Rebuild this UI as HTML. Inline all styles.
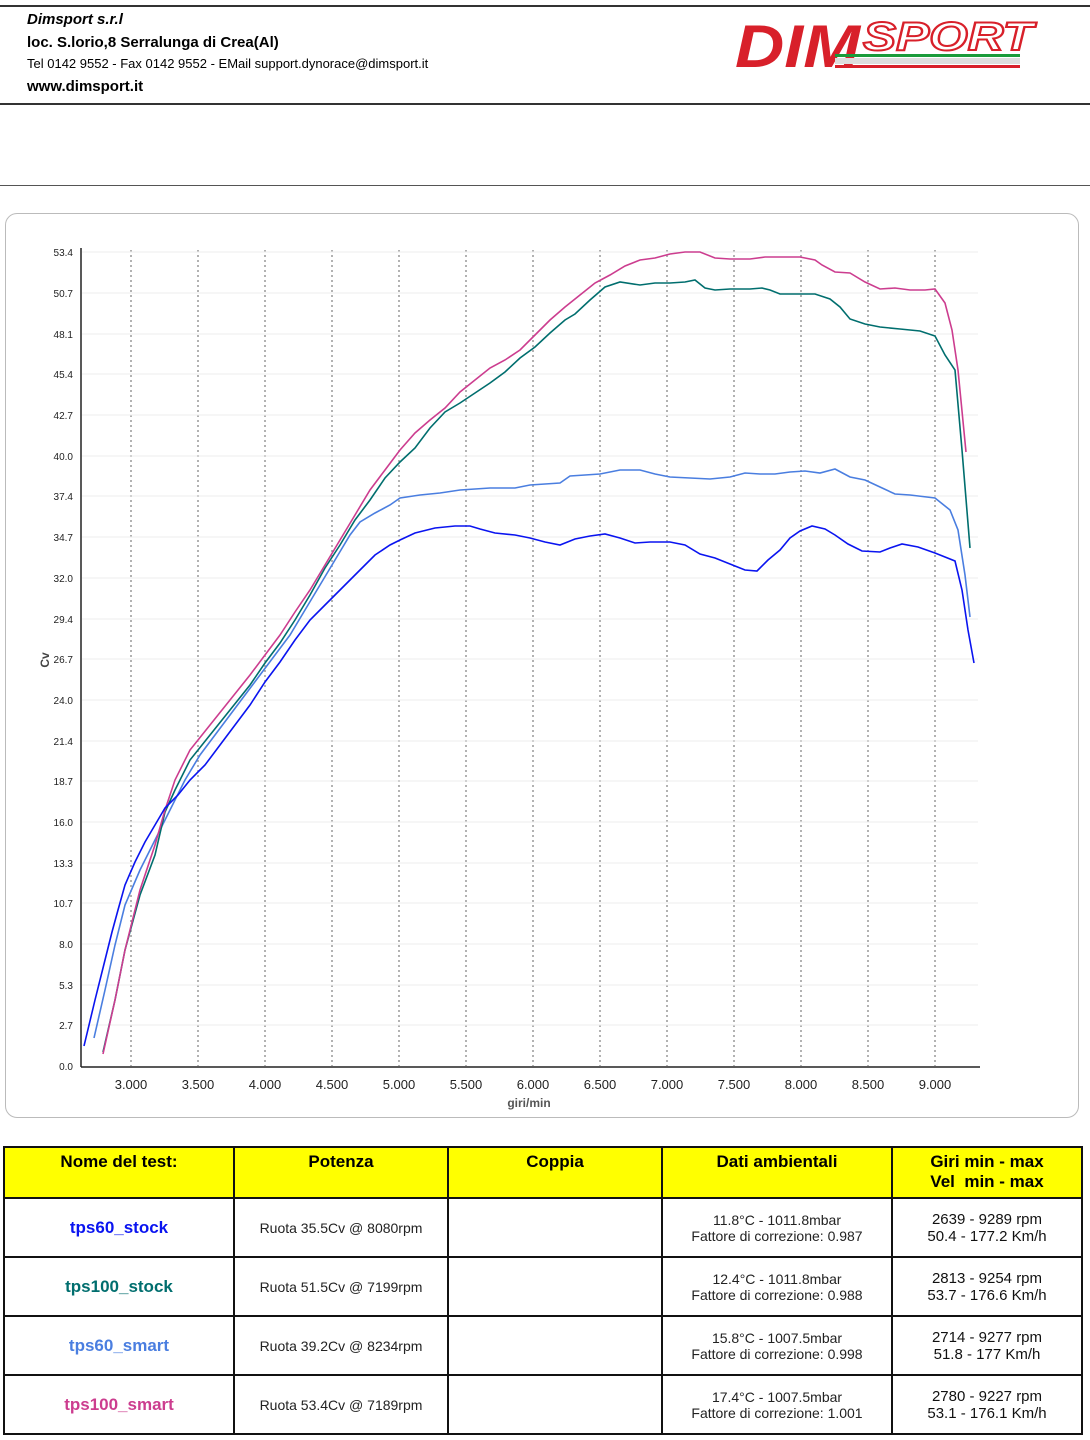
<!DOCTYPE html>
<html><head><meta charset="utf-8"><style>
body{margin:0;width:1090px;height:1440px;background:#fff;font-family:"Liberation Sans",sans-serif;position:relative;overflow:hidden}
.a{position:absolute;white-space:nowrap}
table{position:absolute;left:3px;top:1146px;border-collapse:collapse;width:1080px;table-layout:fixed}
td{border:2px solid #111;text-align:center;font-size:14px;color:#222;padding:0}
th{border:2px solid #111;background:#ffff00;font-size:17px;font-weight:bold;height:44px;vertical-align:top;padding-top:4px;line-height:20px}
tr.r td{height:57px}
.n{font-size:17px;font-weight:bold}
</style></head><body>
<div class="a" style="left:0;top:5px;width:1090px;height:2px;background:#333"></div>
<div class="a" style="left:27px;top:11px;font-size:15px;font-weight:bold;font-style:italic">Dimsport s.r.l</div>
<div class="a" style="left:27px;top:34px;font-size:15px;font-weight:bold">loc. S.lorio,8 Serralunga di Crea(Al)</div>
<div class="a" style="left:27px;top:56px;font-size:13px">Tel 0142 9552 - Fax 0142 9552 - EMail support.dynorace@dimsport.it</div>
<div class="a" style="left:27px;top:78px;font-size:15px;font-weight:bold">www.dimsport.it</div>
<div class="a" style="left:0;top:103px;width:1090px;height:2px;background:#333"></div>
<div class="a" style="left:0;top:185px;width:1090px;height:1px;background:#555"></div>
<svg class="a" style="left:735px;top:12px" width="310" height="60">
<text x="0" y="55" font-family="Liberation Sans" font-weight="bold" font-style="italic" font-size="60" fill="#d8202a" textLength="125" lengthAdjust="spacingAndGlyphs">DIM</text>
<text x="128" y="38" font-family="Liberation Sans" font-weight="bold" font-style="italic" font-size="40" fill="#fff" stroke="#d8202a" stroke-width="2" textLength="170" lengthAdjust="spacingAndGlyphs">SPORT</text>
<rect x="100" y="42" width="185" height="3" fill="#1a9b3a"/>
<rect x="100" y="46" width="185" height="6" fill="#ddd"/>
<rect x="100" y="53" width="185" height="3" fill="#d8202a"/>
</svg>
<div class="a" style="left:5px;top:213px;width:1072px;height:903px;border:1px solid #bbb;border-radius:12px"></div>
<svg class="a" style="left:0;top:0" width="1090" height="1140" font-family="Liberation Sans" font-size="11">
<g stroke="#999" stroke-dasharray="2,3" stroke-width="1.5">
<line x1="131" y1="250" x2="131" y2="1066"/><line x1="198" y1="250" x2="198" y2="1066"/><line x1="265" y1="250" x2="265" y2="1066"/><line x1="332" y1="250" x2="332" y2="1066"/><line x1="399" y1="250" x2="399" y2="1066"/><line x1="466" y1="250" x2="466" y2="1066"/><line x1="533" y1="250" x2="533" y2="1066"/><line x1="600" y1="250" x2="600" y2="1066"/><line x1="667" y1="250" x2="667" y2="1066"/><line x1="734" y1="250" x2="734" y2="1066"/><line x1="801" y1="250" x2="801" y2="1066"/><line x1="868" y1="250" x2="868" y2="1066"/><line x1="935" y1="250" x2="935" y2="1066"/>
</g>
<g stroke="#eee"><line x1="82" y1="252" x2="978" y2="252"/><line x1="82" y1="293" x2="978" y2="293"/><line x1="82" y1="334" x2="978" y2="334"/><line x1="82" y1="374" x2="978" y2="374"/><line x1="82" y1="415" x2="978" y2="415"/><line x1="82" y1="456" x2="978" y2="456"/><line x1="82" y1="496" x2="978" y2="496"/><line x1="82" y1="537" x2="978" y2="537"/><line x1="82" y1="578" x2="978" y2="578"/><line x1="82" y1="619" x2="978" y2="619"/><line x1="82" y1="659" x2="978" y2="659"/><line x1="82" y1="700" x2="978" y2="700"/><line x1="82" y1="741" x2="978" y2="741"/><line x1="82" y1="781" x2="978" y2="781"/><line x1="82" y1="822" x2="978" y2="822"/><line x1="82" y1="863" x2="978" y2="863"/><line x1="82" y1="903" x2="978" y2="903"/><line x1="82" y1="944" x2="978" y2="944"/><line x1="82" y1="985" x2="978" y2="985"/><line x1="82" y1="1025" x2="978" y2="1025"/></g>
<line x1="81" y1="248" x2="81" y2="1067" stroke="#222" stroke-width="1.5"/>
<line x1="81" y1="1067" x2="980" y2="1067" stroke="#222" stroke-width="1.5"/>
<g text-anchor="end" fill="#222" font-size="10">
<text x="73" y="256">53.4</text><text x="73" y="297">50.7</text><text x="73" y="338">48.1</text><text x="73" y="378">45.4</text><text x="73" y="419">42.7</text><text x="73" y="460">40.0</text><text x="73" y="500">37.4</text><text x="73" y="541">34.7</text><text x="73" y="582">32.0</text><text x="73" y="623">29.4</text><text x="73" y="663">26.7</text><text x="73" y="704">24.0</text><text x="73" y="745">21.4</text><text x="73" y="785">18.7</text><text x="73" y="826">16.0</text><text x="73" y="867">13.3</text><text x="73" y="907">10.7</text><text x="73" y="948">8.0</text><text x="73" y="989">5.3</text><text x="73" y="1029">2.7</text><text x="73" y="1070">0.0</text>
</g>
<g text-anchor="middle" fill="#222" font-size="13">
<text x="131" y="1089">3.000</text><text x="198" y="1089">3.500</text><text x="265" y="1089">4.000</text><text x="332" y="1089">4.500</text><text x="399" y="1089">5.000</text><text x="466" y="1089">5.500</text><text x="533" y="1089">6.000</text><text x="600" y="1089">6.500</text><text x="667" y="1089">7.000</text><text x="734" y="1089">7.500</text><text x="801" y="1089">8.000</text><text x="868" y="1089">8.500</text><text x="935" y="1089">9.000</text>
<text x="529" y="1107" font-weight="bold" font-size="12" fill="#555">giri/min</text>
</g>
<text x="49" y="660" transform="rotate(-90 49 660)" text-anchor="middle" font-size="12" fill="#444" font-weight="bold">Cv</text>
<g fill="none" stroke-width="1.6">
<polyline stroke="#4a7ee0" points="94,1038 105,990 115,945 125,905 140,870 155,840 170,810 185,780 200,755 215,735 230,715 245,695 260,675 275,655 290,635 305,610 320,585 335,560 350,535 360,522 375,513 390,505 400,498 420,495 440,493 460,490 475,489 490,488 515,488 530,485 545,484 560,483 570,476 585,475 600,474 620,470 640,470 655,474 670,477 690,478 710,479 730,477 745,473 760,474 775,474 790,472 805,471 820,473 835,469 850,477 865,480 880,487 895,494 910,495 935,498 950,510 958,530 965,575 970,617"/>
<polyline stroke="#006e6e" points="103,1052 115,1000 125,950 140,895 155,855 165,812 175,790 190,760 210,735 230,710 250,685 265,663 280,643 295,620 310,595 325,568 340,545 355,520 370,500 385,478 400,462 415,448 430,428 445,412 460,403 475,393 490,383 505,372 520,358 535,347 550,333 565,320 575,314 590,300 605,287 620,282 640,285 655,283 670,283 685,282 695,280 705,288 715,290 730,289 750,289 762,288 770,290 780,294 800,294 815,294 830,299 840,307 850,319 865,324 880,327 900,329 920,331 935,336 945,355 955,370 962,450 970,548"/>
<polyline stroke="#cc3d8f" points="103,1054 115,1000 125,950 140,890 155,845 165,810 175,780 190,750 210,725 230,700 250,675 265,655 280,635 295,612 310,590 325,565 340,540 355,515 370,490 385,470 400,450 415,433 430,420 445,408 460,392 475,380 490,368 505,360 520,350 535,335 550,320 565,307 580,295 595,283 610,275 625,266 640,260 655,258 670,254 685,252 700,252 715,258 730,259 750,259 765,257 780,257 800,257 815,260 822,265 835,272 850,273 865,282 880,289 895,288 910,290 925,290 935,289 945,303 952,330 958,370 966,452"/>
<polyline stroke="#0a14f0" points="84,1046 95,1000 105,960 112,932 118,910 125,885 135,862 145,842 155,825 165,808 178,795 190,780 205,765 220,745 235,725 250,705 265,682 280,662 295,640 310,620 325,605 345,585 360,570 375,555 390,545 400,540 415,533 435,528 455,526 470,526 480,529 495,533 515,535 530,538 545,542 560,545 575,539 590,536 605,534 620,538 635,543 650,542 670,542 685,545 700,554 715,558 735,566 745,570 757,571 768,560 780,550 790,538 800,531 812,526 825,529 835,535 848,544 862,551 880,552 890,548 902,544 918,547 935,553 955,561 962,590 968,630 974,663"/>
</g>
</svg>
<table>
<colgroup><col style="width:230px"><col style="width:214px"><col style="width:214px"><col style="width:230px"><col></colgroup>
<tr><th>Nome del test:</th><th>Potenza</th><th>Coppia</th><th>Dati ambientali</th><th>Giri min - max<br>Vel&nbsp; min - max</th></tr>
<tr class="r"><td class="n" style="color:#0a14f0">tps60_stock</td><td>Ruota 35.5Cv @ 8080rpm</td><td></td><td>11.8°C - 1011.8mbar<br>Fattore di correzione: 0.987</td><td style="font-size:15px;color:#111">2639 - 9289 rpm<br>50.4 - 177.2 Km/h</td></tr>
<tr class="r"><td class="n" style="color:#006e6e">tps100_stock</td><td>Ruota 51.5Cv @ 7199rpm</td><td></td><td>12.4°C - 1011.8mbar<br>Fattore di correzione: 0.988</td><td style="font-size:15px;color:#111">2813 - 9254 rpm<br>53.7 - 176.6 Km/h</td></tr>
<tr class="r"><td class="n" style="color:#4a7ee0">tps60_smart</td><td>Ruota 39.2Cv @ 8234rpm</td><td></td><td>15.8°C - 1007.5mbar<br>Fattore di correzione: 0.998</td><td style="font-size:15px;color:#111">2714 - 9277 rpm<br>51.8 - 177 Km/h</td></tr>
<tr class="r"><td class="n" style="color:#cc3d8f">tps100_smart</td><td>Ruota 53.4Cv @ 7189rpm</td><td></td><td>17.4°C - 1007.5mbar<br>Fattore di correzione: 1.001</td><td style="font-size:15px;color:#111">2780 - 9227 rpm<br>53.1 - 176.1 Km/h</td></tr>
</table>
</body></html>
